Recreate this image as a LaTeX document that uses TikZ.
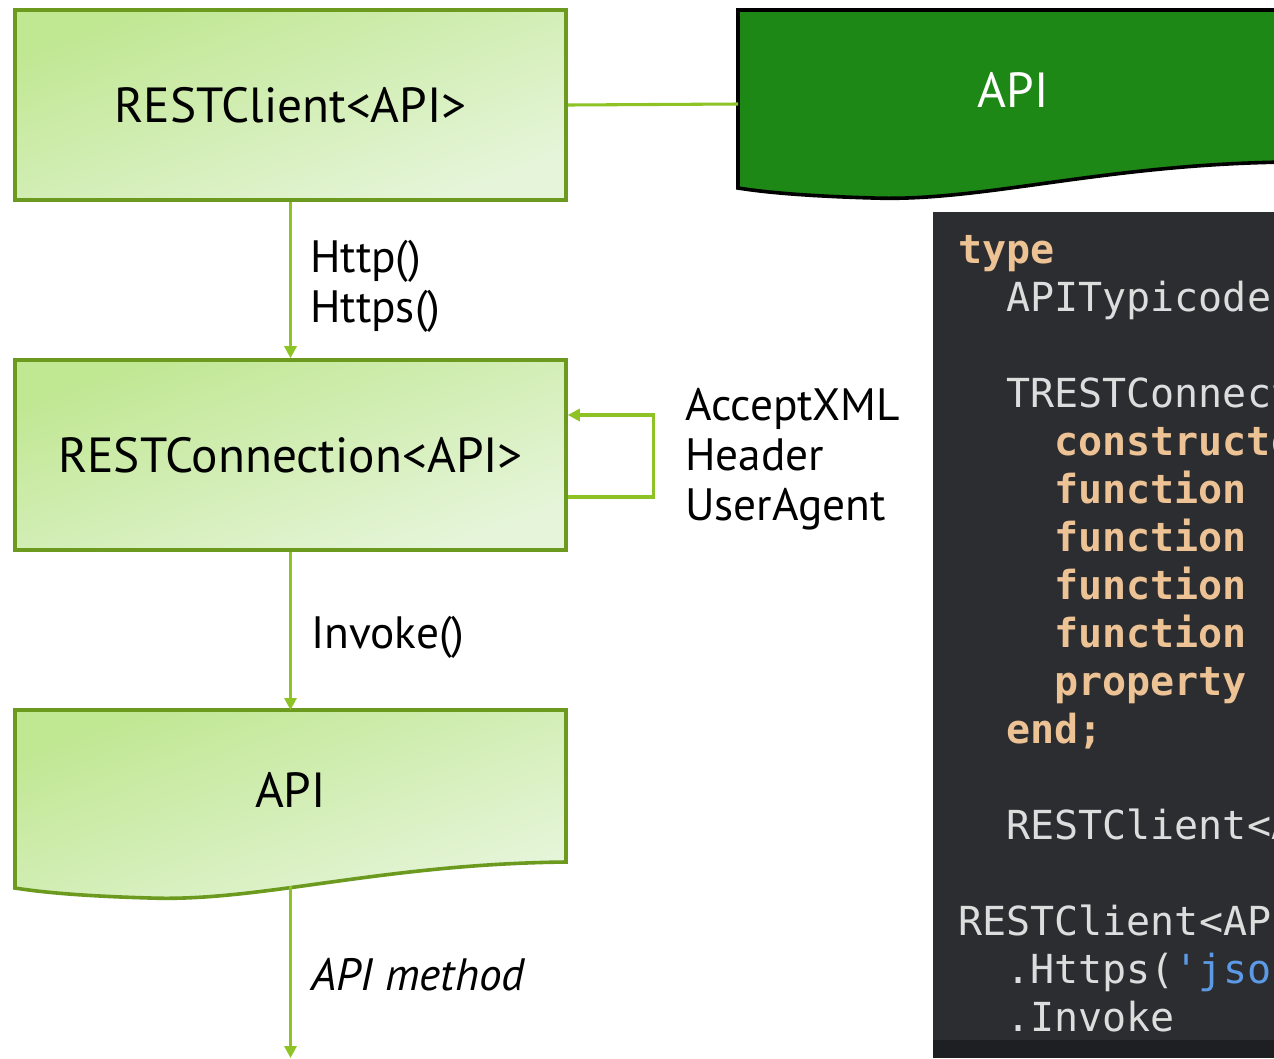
\documentclass[tikz,border=0pt]{standalone}
\usepackage{fontspec}
\setmainfont{PT Sans}
\setmonofont{DejaVu Sans Mono}
\usetikzlibrary{arrows.meta,calc}
\definecolor{boxline}{HTML}{6B9A1F}
\definecolor{arrowc}{HTML}{8EC326}
\definecolor{lightA}{HTML}{C0E792}
\definecolor{lightB}{HTML}{E6F5DA}
\definecolor{darkgreen}{HTML}{1E8816}
\definecolor{codebg}{HTML}{2B2D30}
\definecolor{codebot}{HTML}{1E1F22}
\definecolor{kw}{HTML}{EDC295}
\definecolor{ident}{HTML}{DDDDDD}
\definecolor{strc}{HTML}{5C9AE6}
\tikzset{
  boxstyle/.style={draw=boxline, line width=2.7pt, top color=lightA, bottom color=lightB, shading angle=20,
    minimum width=413.25pt, minimum height=142.5pt, inner sep=0pt, font=\fontsize{37}{40}\selectfont},
  docstyle/.style={draw=boxline, line width=2.7pt, top color=lightA, bottom color=lightB, shading angle=20},
  darkdoc/.style={draw=black, line width=2.7pt, fill=darkgreen},
  conn/.style={draw=arrowc, line width=2.3pt},
  arr/.style={conn, -{Triangle[length=9pt,width=9pt]}},
  lbl/.style={anchor=base west, inner sep=0pt, font=\fontsize{34}{40}\selectfont},
  codeln/.style={anchor=base west, inner sep=0pt, font=\ttfamily\fontsize{30}{30}\selectfont, text=ident},
}
\newcommand{\kwd}[1]{{\bfseries\color{kw}#1}}
\begin{document}
\begin{tikzpicture}[x=0.75pt,y=-0.75pt]
\useasboundingbox (0,0) rectangle (1274,1058);
\fill[white] (0,0) rectangle (1274,1058);

% top-right dark API shape (clipped)
\begin{scope}
\clip (0,0) rectangle (1274,1058);
\draw[darkdoc] (738,10) -- (1289,10) -- (1289,162)
  .. controls (1103,164) and (983,202) .. (873,198)
  .. controls (803,196) and (763,192) .. (738,188) -- cycle;
\end{scope}
\node[inner sep=0pt, text=white, font=\fontsize{37}{40}\selectfont] (apitop) at (1013,90) {API};
\coordinate (apitopW) at (738,104);

% boxes
\node[boxstyle] (client) at (290.5,105) {RESTClient<API>};
\node[boxstyle] (conn) at (290.5,455) {RESTConnection<API>};

% API document shape
\draw[docstyle] (15,710) -- (566,710) -- (566,862)
  .. controls (380,864) and (260,902) .. (150,898)
  .. controls (80,896) and (40,892) .. (15,888) -- cycle;
\node[inner sep=0pt, font=\fontsize{37}{40}\selectfont] (api) at (290.5,790) {API};
\coordinate (apiN) at (290.5,710);
\coordinate (apiS) at (290.5,886);
\coordinate (endpt) at (290.5,1058);

% connectors
\draw[conn] (client.east) -- (apitopW);
\draw[arr] (client.south) -- (conn.north);
\draw[arr] (conn.south) -- (apiN);
\draw[arr] (apiS) -- (endpt);
\draw[arr] ([yshift=-31.5pt]conn.east) -- ++(86,0) |- ([yshift=30pt]conn.east);

% labels
\node[lbl] (l1) at (310,272) {Http()};
\node[lbl] (l2) at (310,322) {Https()};
\node[lbl] (l3) at (685,420) {AcceptXML};
\node[lbl] (l4) at (685,470) {Header};
\node[lbl] (l5) at (685,520) {UserAgent};
\node[lbl] (l6) at (311,648) {Invoke()};
\node[lbl, font=\fontsize{34}{40}\selectfont\itshape] (l7) at (311,990) {API method};

% code panel
\fill[codebg] (933,212) rectangle (1274,1040);
\fill[codebot] (933,1040) rectangle (1274,1058);
\begin{scope}
\clip (933,212) rectangle (1274,1058);
\node[codeln] (c1) at (958,263) {\kwd{type}};
\node[codeln] (c2) at (1006,311) {APITypicode};
\node[codeln] (c3) at (1006,407) {TRESTConnection};
\node[codeln] (c4) at (1054,455) {\kwd{constructor}};
\node[codeln] (c5) at (1054,503) {\kwd{function}};
\node[codeln] (c6) at (1054,551) {\kwd{function}};
\node[codeln] (c7) at (1054,599) {\kwd{function}};
\node[codeln] (c8) at (1054,647) {\kwd{function}};
\node[codeln] (c9) at (1054,695) {\kwd{property} (};
\node[codeln] (c10) at (1006,743) {\kwd{end;}};
\node[codeln] (c11) at (1006,839) {RESTClient<API>};
\node[codeln] (c12) at (958,935) {RESTClient<API>};
\node[codeln] (c13) at (1006,983) {.Https({\color{strc}'json'})};
\node[codeln] (c14) at (1006,1031) {.Invoke};
\end{scope}
\end{tikzpicture}
\end{document}
